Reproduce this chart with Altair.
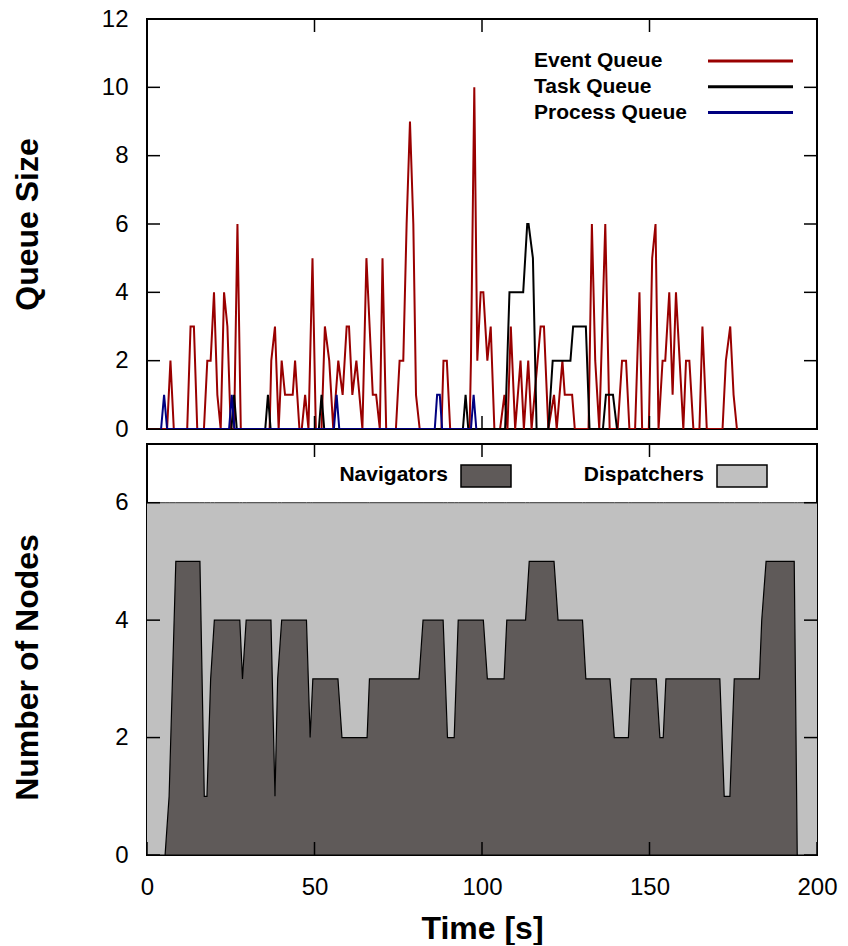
import altair as alt
import pandas as pd

# ---------------- data ----------------
SERIES = ["Event Queue", "Task Queue", "Process Queue"]
NODE_SERIES = ["Navigators", "Dispatchers"]

EVENT_T = [0, 6, 7, 8, 12, 13, 14, 15, 17, 18, 19, 20, 21, 22, 23, 24, 25, 26, 27, 28,
           36.6, 37.1, 38.2, 39.3, 40.2, 41.2, 43.5, 44.2, 45.5, 46.2, 47.2, 48.2, 49.4, 50.4,
           52.1, 53.1, 54.4, 55.6, 57.1, 58.4, 59.6, 60.3, 61.3, 62.5, 64.3, 65.5, 67.4, 68.4,
           69.5, 70.3, 71.4, 74.3, 75.4, 76.5, 77.5, 78.5, 79.5, 80.3, 81.4, 87.9, 88.5, 89.5,
           90.5, 96.3, 96.7, 97.7, 98.6, 99.6, 100.4, 101.6, 102.6, 103.7, 105.4, 106.7, 107.6,
           108.6, 109.9, 111.5, 112.5, 113.8, 114.8, 117.5, 118.5, 119.8, 121.5, 122.3, 124.0,
           124.7, 126.9, 127.7, 131.8, 132.8, 133.8, 135.0, 136.8, 138.1, 140.5, 141.8, 143.0,
           144.0, 145.7, 147.0, 147.8, 149.8, 150.8, 151.8, 152.7, 153.9, 154.7, 155.9, 156.9,
           157.9, 159.0, 160.1, 160.9, 161.9, 163.1, 164.9, 165.8, 167.1, 171.8, 172.8, 174.1,
           175.1, 176.1]
EVENT_V = [0, 0, 2, 0, 0, 3, 3, 0, 0, 2, 2, 4, 1, 0, 4, 3, 0, 0, 6, 0,
           0, 2, 3, 0, 2, 1, 1, 2, 0, 0, 1, 0, 5, 0,
           0, 3, 2, 0, 2, 1, 3, 3, 1, 2, 0, 5, 1, 1,
           0, 5, 0, 0, 2, 2, 6, 9, 6, 1, 0, 0, 2, 2,
           0, 0, 2, 10, 2, 4, 4, 2, 3, 0, 0, 1, 0,
           3, 0, 2, 0, 2, 0, 3, 3, 0, 1, 0, 2,
           1, 1, 0, 0, 6, 2, 0, 6, 0, 0, 2, 2,
           0, 0, 4, 0, 0, 5, 6, 0, 2, 2, 4, 1,
           4, 2, 0, 2, 2, 0, 0, 3, 0, 0, 2, 3,
           1, 0]

TASK_T = [25.2, 26.0, 26.8, 35.3, 36.1, 36.9, 51.3, 52.1, 52.9, 94.3, 95.1, 95.9,
          106.9, 108.2, 112.3, 113.5, 113.9, 115.2, 116.3, 119.8, 121.1, 126.4, 127.2,
          131.0, 132.1, 136.1, 137.0, 139.1, 140.3]
TASK_V = [0, 1, 0, 0, 1, 0, 0, 1, 0, 0, 1, 0,
          0, 4, 4, 6, 6, 5, 0, 0, 2, 2, 3,
          3, 0, 0, 1, 1, 0]

PROC_T = [4.2, 5.1, 6.0, 24.5, 25.3, 26.1, 55.8, 56.6, 57.4, 85.9, 86.6, 87.4, 88.1,
          96.7, 97.5, 98.3]
PROC_V = [0, 1, 0, 0, 1, 0, 0, 1, 0, 0, 1, 1, 0, 0, 1, 0]

NAV_T = [0, 5.4, 6.6, 8.6, 15.8, 17.1, 17.9, 19.0, 20.1, 27.7, 28.5, 29.6, 37.0, 38.2,
         39.0, 40.2, 47.6, 48.7, 49.5, 57.0, 58.2, 65.7, 66.4, 81.2, 82.4, 88.4, 89.7,
         91.7, 92.9, 100.4, 101.6, 106.6, 107.4, 113.0, 114.1, 121.5, 122.7, 130.0, 131.0,
         138.2, 139.5, 143.7, 144.5, 152.0, 153.1, 154.1, 154.9, 171.0, 172.3, 174.0,
         175.3, 182.8, 183.5, 184.8, 193.2, 194.1, 200]
NAV_V = [0, 0, 1, 5, 5, 1, 1, 3, 4, 4, 3, 4, 4, 1,
         3, 4, 4, 2, 3, 3, 2, 2, 3, 3, 4, 4, 2,
         2, 4, 4, 3, 3, 4, 4, 5, 5, 4, 4, 3,
         3, 2, 2, 3, 3, 2, 2, 3, 3, 1, 1,
         3, 3, 4, 5, 5, 0, 0]
TOTAL_NODES = 6

X_TICKS = [0, 50, 100, 150, 200]
Q_TICKS = [0, 2, 4, 6, 8, 10, 12]
N_TICKS = [0, 2, 4, 6]

# ---------------- style ----------------
FONT = "Liberation Sans"
W, H1, H2 = 670, 410, 411
RED, BLACK, NAVY = "#990000", "#000000", "#000080"
NAV_FILL, DISP_FILL = "#5f5a59", "#c0c0c0"
COLORS = [RED, BLACK, NAVY]

xscale = alt.Scale(domain=[0, 200], nice=False, zero=False)
qscale = alt.Scale(domain=[0, 12], nice=False)
nscale = alt.Scale(domain=[0, 7], nice=False)


def yaxis(values, title, title_y):
    return alt.Axis(values=values, ticks=False, domain=False, grid=False,
                    labelFont=FONT, labelFontSize=24, labelColor="black", labelPadding=19,
                    labelOverlap=False, title=title, titleFont=FONT, titleFontSize=32,
                    titleFontWeight="bold", titleColor="black", titleAngle=270,
                    titleAlign="center", titleBaseline="middle", titleX=-120, titleY=title_y)


XAXIS_BOTTOM = alt.Axis(
    values=X_TICKS, ticks=False, domain=False, grid=False, labelFlush=False,
    labelFont=FONT, labelFontSize=24, labelColor="black", labelPadding=20,
    title="Time [s]", titleFont=FONT, titleFontSize=32, titleFontWeight="bold",
    titleColor="black", titleBaseline="alphabetic", titleY=83)
XAXIS_TOP = None
YAXIS_Q = yaxis(Q_TICKS, "Queue Size", 205)
YAXIS_N = yaxis(N_TICKS, "Number of Nodes", 223)


def tick_layers(xaxis, yaxis_obj, yvals, yscale, h):
    xt = pd.DataFrame({"t": X_TICKS})
    yt = pd.DataFrame({"v": yvals})
    xe = alt.X("t:Q", scale=xscale, axis=xaxis)
    ye = alt.Y("v:Q", scale=yscale, axis=yaxis_obj)
    base_x = alt.Chart(xt).mark_rule(color="black", strokeWidth=1.5)
    base_y = alt.Chart(yt).mark_rule(color="black", strokeWidth=1.5)
    return [
        base_x.encode(x=xe, y=alt.value(h), y2=alt.value(h - 13)),
        base_x.encode(x=xe, y=alt.value(0), y2=alt.value(13)),
        base_y.encode(y=ye, x=alt.value(0), x2=alt.value(13)),
        base_y.encode(y=ye, x=alt.value(W - 13), x2=alt.value(W)),
    ]


# ---------------- top panel ----------------
ev = pd.DataFrame({"t": EVENT_T, "v": EVENT_V})
tk = pd.DataFrame({"t": TASK_T, "v": TASK_V})
pr = pd.DataFrame({"t": PROC_T, "v": PROC_V})


def qline(df, color):
    return alt.Chart(df).mark_line(color=color, strokeWidth=2, clip=True).encode(
        x=alt.X("t:Q", scale=xscale, axis=XAXIS_TOP),
        y=alt.Y("v:Q", scale=qscale, axis=YAXIS_Q))


top_legend = []
for i, (name, col) in enumerate(zip(SERIES, COLORS)):
    ypix = 42 + i * 25.8
    d = pd.DataFrame({"label": [name]})
    top_legend.append(alt.Chart(d).mark_text(align="left", baseline="middle", font=FONT,
                                              fontSize=21, fontWeight="bold", color="black")
                      .encode(x=alt.value(387), y=alt.value(ypix), text="label:N"))
    top_legend.append(alt.Chart(d).mark_rule(color=col, strokeWidth=3)
                      .encode(x=alt.value(561), x2=alt.value(646), y=alt.value(ypix)))

top = alt.layer(qline(ev, RED), qline(tk, BLACK), qline(pr, NAVY),
                *tick_layers(XAXIS_TOP, YAXIS_Q, Q_TICKS, qscale, H1),
                *top_legend).properties(width=W, height=H1)

# ---------------- bottom panel ----------------
nodes = pd.DataFrame({"t": NAV_T, "nav": NAV_V, "total": [TOTAL_NODES] * len(NAV_T)})
XE_B = alt.X("t:Q", scale=xscale, axis=XAXIS_BOTTOM)

disp = alt.Chart(nodes).mark_area(color=DISP_FILL, clip=True).encode(
    x=XE_B, y=alt.Y("total:Q", scale=nscale, axis=YAXIS_N), y2="nav:Q")
disp_top = alt.Chart(nodes).mark_line(color="#333333", strokeWidth=1, clip=True).encode(
    x=XE_B, y=alt.Y("total:Q", scale=nscale, axis=YAXIS_N))
nav = alt.Chart(nodes).mark_area(color=NAV_FILL, stroke="black", strokeWidth=1.2,
                                 clip=True).encode(
    x=XE_B, y=alt.Y("nav:Q", scale=nscale, axis=YAXIS_N))

bot_legend = []
for name, fill, tx, rx in zip(NODE_SERIES, [NAV_FILL, DISP_FILL], [301, 557], [314, 570]):
    d = pd.DataFrame({"label": [name]})
    bot_legend.append(alt.Chart(d).mark_text(align="right", baseline="middle", font=FONT,
                                              fontSize=21, fontWeight="bold", color="black")
                      .encode(x=alt.value(tx), y=alt.value(31), text="label:N"))
    bot_legend.append(alt.Chart(d).mark_rect(fill=fill, stroke="black", strokeWidth=1.5)
                      .encode(x=alt.value(rx), x2=alt.value(rx + 50),
                              y=alt.value(21), y2=alt.value(43)))

bottom = alt.layer(disp, disp_top, nav,
                   *tick_layers(XAXIS_BOTTOM, YAXIS_N, N_TICKS, nscale, H2),
                   *bot_legend).properties(width=W, height=H2)

chart = alt.vconcat(top, bottom, spacing=0).properties(
    padding={"left": 10, "top": 6, "right": 5, "bottom": 0},
    background="white",
).configure_view(stroke="black", strokeWidth=2)

chart.save("out.html", embed_options={"renderer": "svg", "actions": False})
